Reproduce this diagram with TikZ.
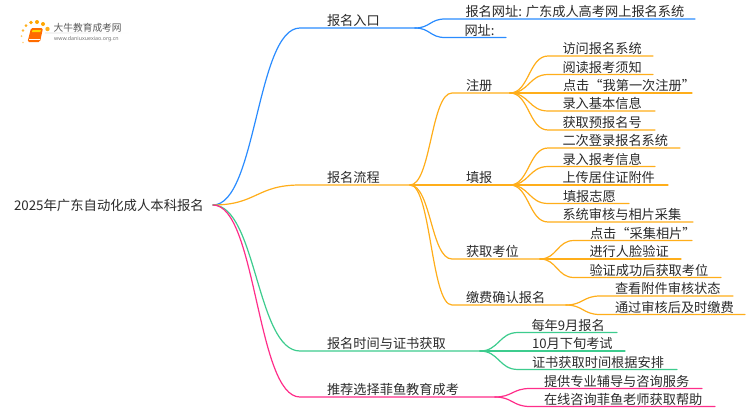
\documentclass[tikz,border=0pt]{standalone}
\usepackage{fontspec}
\setmainfont{Noto Sans CJK SC}
\newfontfamily\latinf{Noto Sans}
\usetikzlibrary{calc}
\definecolor{cblue}{HTML}{2A8CFF}
\definecolor{corange}{HTML}{FFAE1A}
\definecolor{cgreen}{HTML}{3DCC8E}
\definecolor{cpink}{HTML}{FF2E8A}
\definecolor{txt}{HTML}{2B2B2B}
\tikzset{
  lbl/.style={anchor=base west,inner sep=0pt,outer sep=0pt,text=txt,font=\fontsize{13.2}{13.2}\selectfont},
  rootlbl/.style={lbl,font=\fontsize{13.35}{13.35}\selectfont},
  wire/.style={line width=1.2pt,line cap=round},
}
% \leaf{name}{parent}{colour}{xstart}{xtext}{y}{xend}{text}
\newcommand{\leaf}[8]{%
  \coordinate (#1s) at (#4,#6);
  \coordinate (#1) at (#7,#6);
  \node[lbl] (#1t) at (#5,#6-2.4) {#8};
  \draw[wire,#3] (#2) .. controls ($(#2)!0.5!(#2 -| #1s)$) and ($(#1s)!0.5!(#2 |- #1s)$) .. (#1s) -- (#1);
}
\begin{document}
\begin{tikzpicture}[x=1pt,y=-1pt]
\useasboundingbox (0,0) rectangle (750,410);
\fill[white] (0,0) rectangle (750,410);
% logo
\foreach \px/\py/\r/\o in {23/42.5/0.8/0.5,21.5/36/1/0.6,23/30.5/1.3/0.8,26/25.5/1.5/0.9,31/22.5/1.8/1,37/22/2/1,43/24/2/1,47.5/29/2.2/0.9}
  \fill[orange!70!yellow,opacity=\o] (\px,\py) circle (\r);
\fill[orange!85!red,rounded corners=1.5pt] (31,28) -- (43,28) -- (40,42) -- (27.5,42) -- cycle;
\fill[orange!30!yellow] (32.5,30) -- (41,30) -- (40.3,32) -- (32,32) -- cycle;
\draw[white,line width=0.5pt] (29,39.5) -- (39.5,39.5);
\shade[left color=gray!10,right color=white] (45,32.6) rectangle (132,33.6);
\node[anchor=base west,inner sep=0pt,text=black!65,font=\fontsize{9.7}{10}\selectfont] (logoa) at (53.5,31) {大牛教育成考网};
\node[anchor=base west,inner sep=0pt,text=black!55,font=\latinf\fontsize{5.3}{6}\selectfont] (logob) at (54,40.5) {www.daniuxuexiao.org.cn};
% root
\node[rootlbl] (root) at (14,210.5) {2025年广东自动化成人本科报名};
\coordinate (r) at (213,205);
% main branches
\leaf{a}{r}{cblue}{300}{327}{28}{415}{报名入口}
\leaf{b}{r}{corange}{300}{327}{185}{410}{报名流程}
\leaf{c}{r}{cgreen}{300}{327}{351}{480}{报名时间与证书获取}
\leaf{d}{r}{cpink}{300}{327}{397}{495}{推荐选择菲鱼教育成考}
% blue leaves
\leaf{a1}{a}{cblue}{445}{465.5}{19}{695}{报名网址: 广东成人高考网上报名系统}
\leaf{a2}{a}{cblue}{445}{464.5}{37.5}{506}{网址:}
% orange second level
\leaf{b1}{b}{corange}{452}{466}{93}{510}{注册}
\leaf{b2}{b}{corange}{452}{466}{185}{510}{填报}
\leaf{b3}{b}{corange}{452}{466}{259}{540}{获取考位}
\leaf{b4}{b}{corange}{452}{466}{305}{566}{缴费确认报名}
% registration
\leaf{e1}{b1}{corange}{548}{562.5}{56}{653}{访问报名系统}
\leaf{e2}{b1}{corange}{548}{562.5}{74.5}{653}{阅读报考须知}
\leaf{e3}{b1}{corange}{548}{563}{93}{692}{点击“我第一次注册”}
\leaf{e4}{b1}{corange}{548}{562.5}{111}{655}{录入基本信息}
\leaf{e5}{b1}{corange}{548}{562.5}{130}{655}{获取预报名号}
% fill in
\leaf{f1}{b2}{corange}{548}{562.5}{148}{680}{二次登录报名系统}
\leaf{f2}{b2}{corange}{548}{562.5}{166.5}{655}{录入报考信息}
\leaf{f3}{b2}{corange}{548}{562.5}{185}{668}{上传居住证附件}
\leaf{f4}{b2}{corange}{548}{563}{203.5}{629}{填报志愿}
\leaf{f5}{b2}{corange}{548}{562.5}{222}{693}{系统审核与相片采集}
% seat
\leaf{g1}{b3}{corange}{574}{590}{240.5}{692}{点击“采集相片”}
\leaf{g2}{b3}{corange}{574}{589.5}{259}{681}{进行人脸验证}
\leaf{g3}{b3}{corange}{574}{589.5}{277.5}{721}{验证成功后获取考位}
% payment
\leaf{h1}{b4}{corange}{600}{615}{296}{733}{查看附件审核状态}
\leaf{h2}{b4}{corange}{600}{615}{314.5}{745}{通过审核后及时缴费}
% green
\leaf{c1}{c}{cgreen}{518}{531.5}{332.5}{617}{每年9月报名}
\leaf{c2}{c}{cgreen}{518}{532}{351}{625}{10月下旬考试}
\leaf{c3}{c}{cgreen}{518}{532}{369.5}{677}{证书获取时间根据安排}
% pink
\leaf{d1}{d}{cpink}{530}{544}{388.5}{702}{提供专业辅导与咨询服务}
\leaf{d2}{d}{cpink}{530}{544}{406.5}{715}{在线咨询菲鱼老师获取帮助}
\end{tikzpicture}
\end{document}
